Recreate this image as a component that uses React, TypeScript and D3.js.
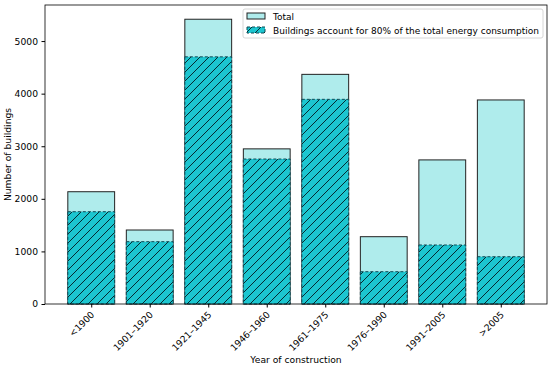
import { useEffect, useRef } from 'react';
import * as d3 from 'd3';

const categories = ['<1900', '1901–1920', '1921–1945', '1946–1960', '1961–1975', '1976–1990', '1991–2005', '>2005'];
const totalValues = [2135, 1407, 5415, 2950, 4367, 1280, 2740, 3880];
const energyValues = [1755, 1185, 4700, 2757, 3892, 614, 1122, 899];
const yTicks = [0, 1000, 2000, 3000, 4000, 5000];

const W = 550;
const H = 367;
const margin = { top: 5, right: 3, bottom: 63, left: 45 };
const FS = 9.2;

export default function App() {
  const svgRef = useRef<SVGSVGElement>(null);

  useEffect(() => {
    if (!svgRef.current) return;
    const svg = d3.select(svgRef.current);
    svg.selectAll('*').remove();
    svg.style('font-family', '"DejaVu Sans", sans-serif');

    const iw = W - margin.left - margin.right;
    const ih = H - margin.top - margin.bottom;

    // matplotlib-like linear band positions
    const x = d3.scaleLinear().domain([-0.79, categories.length - 1 + 0.79]).range([0, iw]);
    const bw = x(0.8) - x(0);
    const ymax = d3.max(totalValues)! * 1.05;
    const y = d3.scaleLinear().domain([0, ymax]).range([ih, 0]);

    const defs = svg.append('defs');
    const pat = defs
      .append('pattern')
      .attr('id', 'hatch')
      .attr('patternUnits', 'userSpaceOnUse')
      .attr('width', 9)
      .attr('height', 9);
    pat.append('rect').attr('width', 9).attr('height', 9).attr('fill', '#1cc6d0');
    pat
      .append('path')
      .attr('d', 'M-1,10 L10,-1 M-1,1 L1,-1 M8,10 L10,8')
      .attr('stroke', '#062a30')
      .attr('stroke-width', 1);

    const g = svg.append('g').attr('transform', `translate(${margin.left},${margin.top})`);

    // total bars
    g.selectAll('rect.total')
      .data(totalValues)
      .enter()
      .append('rect')
      .attr('class', 'total')
      .attr('x', (_, i) => x(i) - bw / 2)
      .attr('y', (d) => y(d))
      .attr('width', bw)
      .attr('height', (d) => ih - y(d))
      .attr('fill', '#afecec')
      .attr('stroke', '#222')
      .attr('stroke-width', 1);

    // hatched bars
    g.selectAll('rect.energy')
      .data(energyValues)
      .enter()
      .append('rect')
      .attr('class', 'energy')
      .attr('x', (_, i) => x(i) - bw / 2)
      .attr('y', (d) => y(d))
      .attr('width', bw)
      .attr('height', (d) => ih - y(d))
      .attr('fill', 'url(#hatch)')
      .attr('stroke', '#0f4a55')
      .attr('stroke-width', 1)
      .attr('stroke-dasharray', '3,2');

    // frame
    g.append('rect')
      .attr('width', iw)
      .attr('height', ih)
      .attr('fill', 'none')
      .attr('stroke', '#000')
      .attr('stroke-width', 0.8);

    // y axis
    const yAxis = g
      .append('g')
      .call(d3.axisLeft(y).tickValues(yTicks).tickFormat(d3.format('d')).tickSize(3.5).tickPadding(3.5));
    yAxis.select('.domain').remove();
    yAxis.selectAll('text').attr('font-size', FS).attr('fill', '#000').style('font-family', '"DejaVu Sans", sans-serif');

    // x axis
    const xAxis = g
      .append('g')
      .attr('transform', `translate(0,${ih})`)
      .call(
        d3
          .axisBottom(x)
          .tickValues(d3.range(categories.length))
          .tickFormat((d) => categories[d as number])
          .tickSize(3.5)
          .tickPadding(3)
      );
    xAxis.select('.domain').remove();
    xAxis
      .selectAll('text')
      .attr('font-size', FS)
      .attr('fill', '#000')
      .style('font-family', '"DejaVu Sans", sans-serif')
      .attr('text-anchor', 'end')
      .attr('x', 0)
      .attr('y', 0)
      .attr('dy', '0.35em')
      .attr('transform', 'translate(1,9) rotate(-45)');

    // axis labels
    svg.append('text')
      .attr('x', margin.left + iw / 2)
      .attr('y', 363)
      .attr('text-anchor', 'middle')
      .attr('font-size', FS)
      .text('Year of construction');
    svg.append('text')
      .attr('transform', `translate(11,${margin.top + ih / 2}) rotate(-90)`)
      .attr('text-anchor', 'middle')
      .attr('font-size', FS)
      .text('Number of buildings');

    // legend
    const lg = svg.append('g').attr('transform', 'translate(243,9)');
    lg.append('rect')
      .attr('width', 300)
      .attr('height', 29)
      .attr('rx', 2)
      .attr('fill', 'rgba(255,255,255,0.8)')
      .attr('stroke', '#ccc')
      .attr('stroke-width', 0.8);
    lg.append('rect')
      .attr('x', 4).attr('y', 4).attr('width', 18).attr('height', 6)
      .attr('fill', '#afecec').attr('stroke', '#222');
    lg.append('rect')
      .attr('x', 4).attr('y', 18).attr('width', 18).attr('height', 6)
      .attr('fill', 'url(#hatch)').attr('stroke', '#0f4a55').attr('stroke-dasharray', '3,2');
    lg.append('text').attr('x', 30).attr('y', 11).attr('font-size', 9).text('Total');
    lg.append('text')
      .attr('x', 30)
      .attr('y', 25)
      .attr('font-size', 9)
      .text('Buildings account for 80% of the total energy consumption');
  }, []);

  return <svg ref={svgRef} width={W} height={H} style={{ position: 'absolute', left: 0, top: 0 }} />;
}
